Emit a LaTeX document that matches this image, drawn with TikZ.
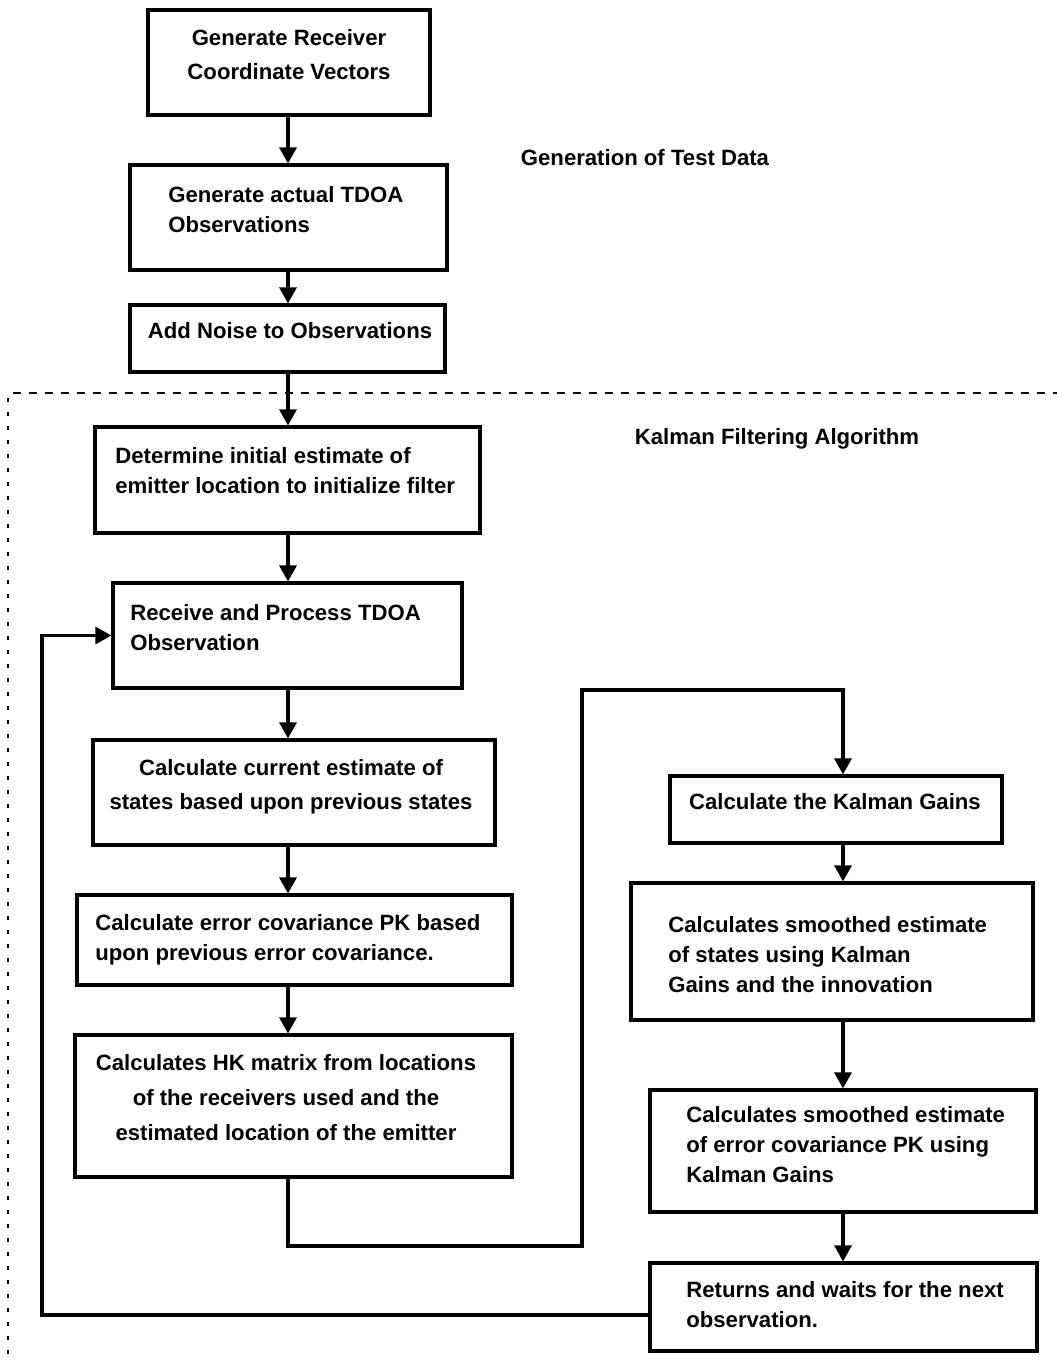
\documentclass[tikz,border=0pt]{standalone}
\usepackage{fontspec}
\setmainfont{Liberation Sans}
\usetikzlibrary{arrows.meta,fit,calc}
\begin{document}
\begin{tikzpicture}[x=0.2mm,y=-0.2mm,
  box/.style={draw, line width=1.8pt, inner sep=0pt},
  txt/.style={inner sep=0pt, font=\fontsize{12.6pt}{17pt}\selectfont\bfseries, align=left},
  ctxt/.style={txt, align=center, anchor=north},
  ltxt/.style={txt, align=left, anchor=north west},
  arr/.style={line width=1.8pt, -{Triangle[length=3.2mm,width=3.4mm]}},
  dshh/.style={line width=0.7pt, dash pattern=on 1.6mm off 1.6mm},
  dshv/.style={line width=0.7pt, dash pattern=on 0.8mm off 2mm}]
\useasboundingbox (0,0) rectangle (1057,1364);

% boxes
\node[box, fit={(148,10)(430,115)}] (B1) {};
\node[box, fit={(130,165)(447,270)}] (B2) {};
\node[box, fit={(130,305)(445,372)}] (B3) {};
\node[box, fit={(95,427)(480,533)}] (B4) {};
\node[box, fit={(113,583)(462,688)}] (B5) {};
\node[box, fit={(93,740)(495,845)}] (B6) {};
\node[box, fit={(77,895)(512,985)}] (B7) {};
\node[box, fit={(75,1035)(512,1177)}] (B8) {};
\node[box, fit={(670,776)(1002,843)}] (B9) {};
\node[box, fit={(631,883)(1033,1020)}] (B10) {};
\node[box, fit={(650,1090)(1036,1212)}] (B11) {};
\node[box, fit={(650,1263)(1037,1351)}] (B12) {};

% texts
\node[ctxt] (T1) at (289,29) {Generate Receiver\\[2.3pt]Coordinate Vectors};
\node[ltxt] (T2) at (168,186) {Generate actual TDOA\\Observations};
\node[ctxt] (T3) at (290,322) {Add Noise to Observations};
\node[ltxt] (T4) at (115,447) {Determine initial estimate of\\emitter location to initialize filter};
\node[ltxt] (T5) at (130,604) {Receive and Process TDOA\\Observation};
\node[ctxt] (T6) at (291,759) {Calculate current estimate of\\[2.3pt]states based upon previous states};
\node[ltxt] (T7) at (95,914) {Calculate error covariance PK based\\upon previous error covariance.};
\node[ctxt] (T8) at (286,1054) {Calculates HK matrix from locations\\[2.9pt]of the receivers used and the\\[2.9pt]estimated location of the emitter};
\node[ctxt] (T9) at (835,793) {Calculate the Kalman Gains};
\node[ltxt] (T10) at (668,916) {Calculates smoothed estimate\\of states using Kalman\\Gains and the innovation};
\node[ltxt] (T11) at (686,1106) {Calculates smoothed estimate\\of error covariance PK using\\Kalman Gains};
\node[ltxt] (T12) at (686,1281) {Returns and waits for the next\\observation.};
\node[ctxt] (L1) at (645,149) {Generation of Test Data};
\node[ctxt] (L2) at (777,428) {Kalman Filtering Algorithm};

% dashed region border
\draw[dshh] (13,393) -- (1057,393);
\draw[dshv] (8,398) -- (8,1364);

% spines
\coordinate (spine) at (288,0);
\coordinate (rspine) at (843,0);
\coordinate (c1) at (582,1246);
\coordinate (c2) at (582,690);
\coordinate (fb) at (42,1315);

% left column arrows
\draw[arr] (B1.south -| spine) -- (B2.north -| spine);
\draw[arr] (B2.south -| spine) -- (B3.north -| spine);
\draw[arr] (B3.south -| spine) -- (B4.north -| spine);
\draw[arr] (B4.south -| spine) -- (B5.north -| spine);
\draw[arr] (B5.south -| spine) -- (B6.north -| spine);
\draw[arr] (B6.south -| spine) -- (B7.north -| spine);
\draw[arr] (B7.south -| spine) -- (B8.north -| spine);

% cross-over connector
\draw[arr] (B8.south -| spine) |- (c1) -- (c2) -| (B9.north -| rspine);

% right column arrows
\draw[arr] (B9.south -| rspine) -- (B10.north -| rspine);
\draw[arr] (B10.south -| rspine) -- (B11.north -| rspine);
\draw[arr] (B11.south -| rspine) -- (B12.north -| rspine);

% feedback loop
\draw[arr] (B12.west |- fb) -- (fb) -- (fb |- B5.west) -- (B5.west);
\end{tikzpicture}
\end{document}
